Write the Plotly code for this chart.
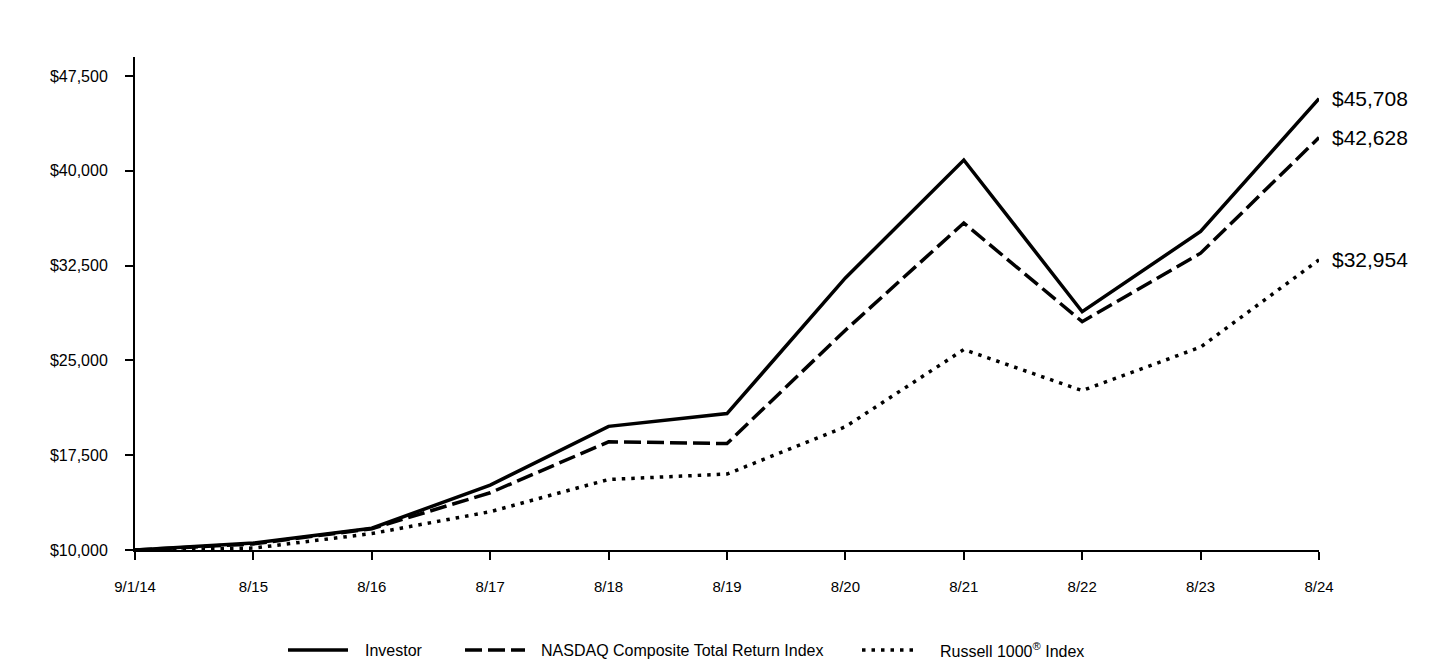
import plotly.graph_objects as go

# data
dates = ['9/1/14', '8/15', '8/16', '8/17', '8/18', '8/19', '8/20', '8/21', '8/22', '8/23', '8/24']
investor = [10000, 10550, 11720, 15140, 19780, 20790, 31520, 40850, 28850, 35200, 45708]
nasdaq = [10000, 10480, 11680, 14530, 18560, 18420, 27390, 35870, 28060, 33480, 42628]
russell = [10000, 10150, 11300, 13030, 15580, 16010, 19750, 25860, 22610, 26050, 32954]
y_ticks = [10000, 17500, 25000, 32500, 40000, 47500]

names = ['Investor', 'NASDAQ Composite Total Return Index', 'Russell 1000<sup>®</sup> Index']
dashes = ['solid', '17px,6px', '3.5px,6px']
series = [investor, nasdaq, russell]

# the page body has an 8px margin, so the figure is drawn 8px smaller
OFF = 8
W, H = 1440 - OFF, 660 - OFF
L, R, T, B = 135 - OFF, 121, 57 - OFF, 110
FONT = 'Arial, Liberation Sans, sans-serif'


def px_x(px):
    return (px - OFF - L) / (W - L - R)


def px_y(py):
    return (H - B - (py - OFF)) / (H - T - B)


fig = go.Figure()
for name, vals, dash in zip(names, series, dashes):
    fig.add_trace(go.Scatter(x=dates, y=vals, mode='lines', name=name,
                             line=dict(color='black', width=3.5, dash=dash),
                             cliponaxis=False, hoverinfo='x+y'))
    # value label at the end of each line
    fig.add_annotation(x=dates[-1], y=vals[-1], text=f'${vals[-1]:,}',
                       xanchor='left', yanchor='middle', xshift=11, showarrow=False,
                       font=dict(size=21, color='black', family=FONT))

# hand-made legend under the chart (long line samples like the original)
legend_pos = [(288, 348, 363), (465, 525, 539), (862, 918, 938)]
for (x0, x1, xt), name, dash in zip(legend_pos, names, dashes):
    fig.add_shape(type='line', xref='paper', yref='paper',
                  x0=px_x(x0), x1=px_x(x1), y0=px_y(650), y1=px_y(650),
                  line=dict(color='black', width=3.5, dash=dash))
    fig.add_annotation(xref='paper', yref='paper', x=px_x(xt), y=px_y(650),
                       text=name, xanchor='left', yanchor='middle', showarrow=False,
                       font=dict(size=16, color='black', family=FONT))

fig.update_layout(width=W, height=H, showlegend=False,
                  margin=dict(l=L, r=R, t=T, b=B),
                  paper_bgcolor='white', plot_bgcolor='white',
                  font=dict(family=FONT, color='black'))
fig.update_xaxes(type='category', range=[0, len(dates) - 1],
                 showline=True, linecolor='black', linewidth=2,
                 ticks='outside', ticklen=8, tickwidth=2, tickcolor='black',
                 showgrid=False, zeroline=False, ticklabelstandoff=14,
                 tickfont=dict(size=15))
fig.update_yaxes(range=[10000, 49000], tickvals=y_ticks,
                 ticktext=[f'${v:,}' for v in y_ticks],
                 showline=True, linecolor='black', linewidth=2,
                 ticks='outside', ticklen=8, tickwidth=2, tickcolor='black',
                 showgrid=False, zeroline=False, ticklabelstandoff=14,
                 tickfont=dict(size=16))

fig.write_html('out.html')
